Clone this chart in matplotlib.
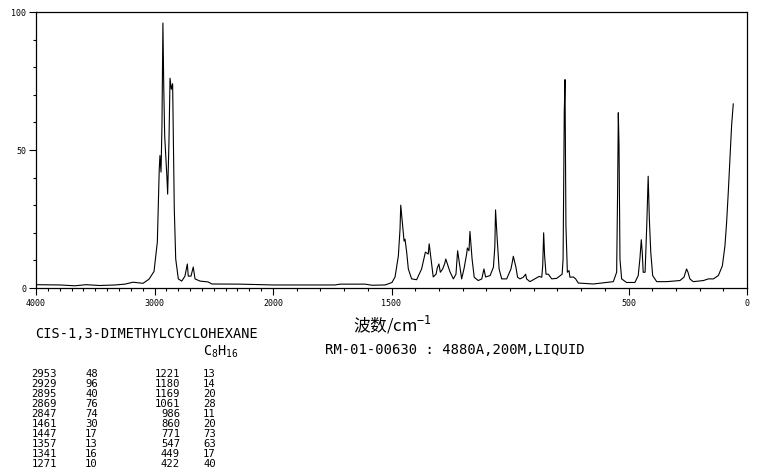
import numpy as np
import matplotlib
matplotlib.use("Agg")
import matplotlib.pyplot as plt

# spectrum: (wavenumber cm-1, relative intensity)
spectrum = [
    (4000, 1.2), (3797, 1.1), (3671, 0.8), (3578, 1.2), (3460, 0.9), (3333, 1.1),
    (3249, 1.4), (3181, 2.1), (3097, 1.7), (3046, 3.2), (3004, 6.0),
    (2976, 16.7), (2960, 43), (2954, 48), (2945, 42), (2937, 59), (2929, 96),
    (2922, 73), (2914, 55), (2895, 40), (2889, 34), (2878, 53), (2869, 76),
    (2858, 72), (2847, 74), (2841, 55), (2833, 28.6), (2821, 10.5), (2799, 3.3),
    (2770, 2.5), (2743, 4.3), (2723, 8.7), (2715, 4.3), (2692, 4.3), (2673, 7.6),
    (2658, 3.3), (2616, 2.5), (2548, 2.2), (2515, 1.45), (2279, 1.4), (2110, 1.2),
    (2000, 1.1), (1886, 1.1), (1738, 1.1), (1717, 1.4), (1612, 1.4), (1582, 1.0),
    (1527, 1.1), (1498, 2.0), (1485, 4.0), (1471, 11.7), (1464, 21.4), (1461, 30),
    (1453, 22.6), (1447, 17), (1443, 17.7), (1436, 13), (1429, 6.9), (1415, 3.3),
    (1394, 3.0), (1373, 6.9), (1357, 13), (1345, 12.3), (1341, 16), (1333, 10.5),
    (1324, 4.0), (1312, 5.0), (1307, 7.2), (1300, 8.7), (1294, 5.7), (1284, 6.9),
    (1275, 9.0), (1271, 10.5), (1253, 5.8), (1239, 3.3), (1228, 5.0), (1221, 13.5),
    (1212, 8.0), (1204, 3.3), (1194, 7.0), (1183, 12.3), (1180, 14.5), (1173, 13.5),
    (1169, 20.5), (1160, 10.5), (1151, 3.9), (1134, 2.7), (1119, 3.3), (1110, 6.9),
    (1103, 4.0), (1084, 4.5), (1070, 7.5), (1064, 15), (1061, 28.3), (1054, 17.7),
    (1046, 6.9), (1035, 3.3), (1014, 3.3), (996, 6.9), (990, 9.5), (986, 11.5),
    (975, 7.5), (968, 3.9), (958, 3.3), (944, 3.9), (934, 5.0), (930, 3.3),
    (916, 2.3), (895, 3.3), (877, 4.2), (866, 3.9), (862, 8.0), (858, 20),
    (854, 11.7), (848, 5.0), (838, 5.0), (824, 3.3), (803, 3.5), (780, 5.0),
    (776, 10.5), (771, 63.8), (768, 75.5), (764, 22.6), (758, 5.7), (751, 6.3),
    (747, 3.9), (733, 4.0), (723, 3.3), (712, 1.8), (649, 1.45), (592, 2.0),
    (564, 2.3), (550, 5.7), (546, 34.8), (543, 63.5), (540, 51.6), (536, 10.5),
    (529, 3.3), (508, 2.0), (473, 2.0), (459, 4.5), (452, 10.5), (446, 17.5),
    (442, 12.9), (438, 5.7), (430, 5.7), (423, 22.6), (419, 34.7), (417, 40.5),
    (412, 25), (406, 12.9), (398, 4.5), (381, 2.3), (339, 2.3),
    (283, 2.7), (266, 3.9), (255, 6.9), (249, 5.7), (241, 3.3), (227, 2.3),
    (184, 2.7), (163, 3.3), (142, 3.3), (121, 4.5), (104, 8.0), (93, 15.3),
    (86, 23.8), (79, 34.7), (72, 46.7), (65, 58.8), (58, 66.7),
]
wavenumber = [p[0] for p in spectrum]
intensity = [p[1] for p in spectrum]

# peak table printed under the chart
peak_wn_1 = [2953, 2929, 2895, 2869, 2847, 1461, 1447, 1357, 1341, 1271]
peak_int_1 = [48, 96, 40, 76, 74, 30, 17, 13, 16, 10]
peak_wn_2 = [1221, 1180, 1169, 1061, 986, 860, 771, 547, 449, 422]
peak_int_2 = [13, 14, 20, 28, 11, 20, 73, 63, 17, 40]

x_major = [4000, 3000, 2000, 1500, 500, 0]
x_minor = list(range(0, 4001, 100))
y_major = [0, 50, 100]
y_minor = list(range(0, 101, 10))

compound = "CIS-1,3-DIMETHYLCYCLOHEXANE"
formula = r"C$_{8}$H$_{16}$"
sample = "RM-01-00630 : 4880A,200M,LIQUID"


# x axis: above 2000 cm-1 the scale is halved
def fwd(w):
    w = np.asarray(w, dtype=float)
    return np.where(w > 2000, 2000 + (w - 2000) / 2.0, w)


def inv(u):
    u = np.asarray(u, dtype=float)
    return np.where(u > 2000, 2000 + (u - 2000) * 2.0, u)


plt.rcParams["mathtext.fontset"] = "custom"
plt.rcParams["mathtext.rm"] = "DejaVu Sans Mono"
plt.rcParams["mathtext.it"] = "DejaVu Sans Mono"

mono = "DejaVu Sans Mono"

fig = plt.figure(figsize=(7.61, 4.77), dpi=100)
ax = fig.add_axes([36 / 761, 1 - 289 / 477, 711 / 761, 276 / 477])

ax.plot(wavenumber, intensity, color="black", lw=0.8)

ax.set_xscale("function", functions=(fwd, inv))
ax.set_xlim(4000, 0)
ax.set_ylim(0, 100)

ax.set_xticks(x_major)
ax.set_xticklabels([str(v) for v in x_major], family=mono, fontsize=6)
ax.set_xticks(x_minor, minor=True)
ax.set_yticks(y_major)
ax.set_yticklabels([str(v) for v in y_major], family=mono, fontsize=6)
ax.set_yticks(y_minor, minor=True)
ax.tick_params(which="major", direction="out", length=5, width=0.8, pad=2)
ax.tick_params(which="minor", direction="out", length=2.2, width=0.8)
for s in ax.spines.values():
    s.set_linewidth(0.9)

fig.text(393 / 761, 1 - 325 / 477, "波数/cm$^{-1}$", ha="center", va="center",
         fontsize=12, family=["Noto Sans CJK SC", "DejaVu Sans"])

fig.text(35 / 761, 1 - 334 / 477, compound, ha="left", va="center",
         family=mono, fontsize=9.8)
fig.text(203 / 761, 1 - 352 / 477, formula, ha="left", va="center",
         family=mono, fontsize=9.8)
fig.text(325 / 761, 1 - 350 / 477, sample, ha="left", va="center",
         family=mono, fontsize=10)

for i in range(len(peak_wn_1)):
    yy = 1 - (374 + i * 10) / 477
    fig.text(57 / 761, yy, str(peak_wn_1[i]), ha="right", va="center", family=mono, fontsize=7.6)
    fig.text(85 / 761, yy, str(peak_int_1[i]), ha="left", va="center", family=mono, fontsize=7.6)
    fig.text(180 / 761, yy, str(peak_wn_2[i]), ha="right", va="center", family=mono, fontsize=7.6)
    fig.text(203 / 761, yy, str(peak_int_2[i]), ha="left", va="center", family=mono, fontsize=7.6)

fig.savefig("out.png", dpi=100, facecolor="white")
